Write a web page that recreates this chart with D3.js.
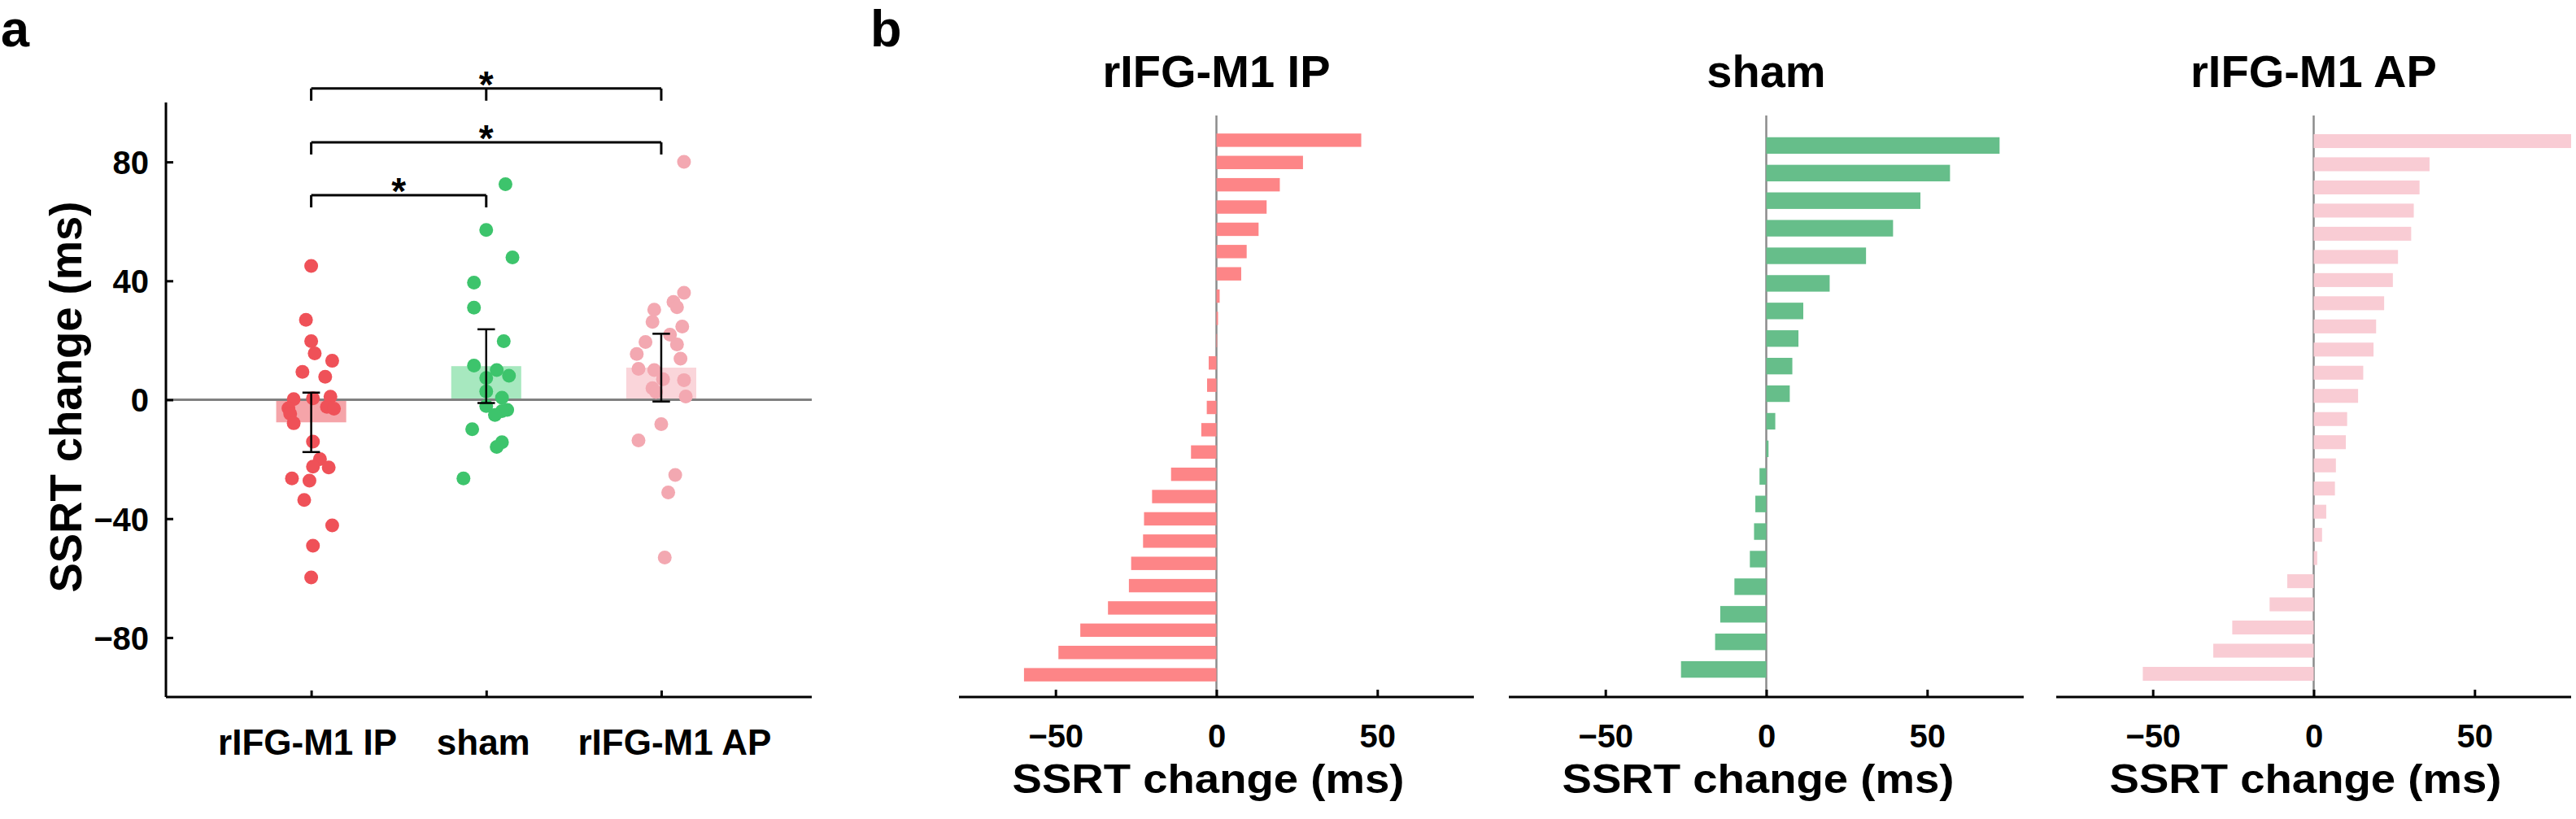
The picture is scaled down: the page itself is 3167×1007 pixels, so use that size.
<!DOCTYPE html>
<html>
<head>
<meta charset="utf-8">
<script src="https://cdn.jsdelivr.net/npm/d3@7"></script>
<style>
  html, body { margin: 0; padding: 0; background: #ffffff; }
  svg { display: block; }
  text { font-family: "Liberation Sans", Arial, Helvetica, sans-serif; font-weight: bold; fill: #000; }
</style>
</head>
<body>
<svg id="chart" width="3167" height="1007"></svg>
<script>
// ---------------- DATA ----------------
const categories = ["rIFG-M1 IP", "sham", "rIFG-M1 AP"];

// individual SSRT changes (ms), sorted descending (as in panel b)
const ipValues   = [45.0, 26.9, 19.7, 15.6, 13.1, 9.4, 7.7, 1.0, 0.5, 0.2, -2.4, -2.9, -3.0, -4.7, -7.9,
                    -14.1, -20.0, -22.5, -22.8, -26.5, -27.2, -33.7, -42.3, -49.1, -59.8];
const shamValues = [72.5, 57.1, 47.9, 39.4, 31.0, 19.7, 11.5, 10.0, 8.1, 7.3, 2.8, 0.7, -2.1, -3.4, -3.8,
                    -5.1, -9.9, -14.3, -15.9, -26.5];
const apValues   = [80.0, 36.0, 32.9, 31.1, 30.3, 26.2, 24.6, 21.9, 19.4, 18.6, 15.4, 13.8, 10.4, 10.0, 6.9,
                    6.6, 3.9, 2.6, 1.1, -8.2, -13.7, -25.3, -31.2, -53.1];

// horizontal jitter of each dot in panel a (category units), same order as the values
const ipJitter   = [0, -0.03, 0, 0.02, 0.12, -0.05, 0.08, 0.11, 0.01, -0.10, 0.09, -0.13, 0.13, -0.12, -0.10,
                    0.01, 0.05, 0.01, 0.10, -0.11, -0.01, -0.04, 0.12, 0.01, 0];
const shamJitter = [0.11, 0, 0.15, -0.07, -0.07, 0.10, -0.07, 0.06, 0.13, 0, 0, 0.09, 0, 0.12, 0.09,
                    0.05, -0.08, 0.09, 0.06, -0.13];
const apJitter   = [0.13, 0.13, 0.07, 0.09, -0.04, -0.05, 0.12, 0.05, -0.09, 0.09, -0.14, 0.11, -0.13, -0.04, 0.01,
                    0.13, -0.05, -0.03, 0.14, 0, -0.13, 0.08, 0.04, 0.02];

// group means and error-bar half widths (ms)
const groupMeans  = [-7.6, 11.3, 10.8];
const groupErrors = [10.0, 12.4, 11.4];

// significance comparisons (category index pairs) with star
const sigPairs = [[1, 3], [1, 3], [1, 2]];

// tick values
const yTicksA = [-80, -40, 0, 40, 80];
const xTicksB = [-50, 0, 50];

// ---------------- STYLE ----------------
const dotColors   = ["#ef5158", "#3dc46c", "#f3a8b1"];
const barColorsA  = ["#f5a4a9", "#a7e8bf", "#fad5da"];
const barColorsB  = ["#fd8587", "#66be8a", "#f9ccd4"];

const svg = d3.select("#chart");

// ---------------- PANEL A ----------------
const xA = d3.scaleLinear().domain([0.17, 3.86]).range([204, 998]);
const yA = d3.scaleLinear().domain([-100, 100]).range([857, 126]);
const groupsA = [
  {k: 1, values: ipValues, jitter: ipJitter},
  {k: 2, values: shamValues, jitter: shamJitter},
  {k: 3, values: apValues, jitter: apJitter}
];

const gA = svg.append("g");

// bars (means)
gA.selectAll("rect.mean").data(groupsA).join("rect")
  .attr("class", "mean")
  .attr("x", d => xA(d.k - 0.2))
  .attr("width", d => xA(d.k + 0.2) - xA(d.k - 0.2))
  .attr("y", d => yA(Math.max(0, groupMeans[d.k - 1])))
  .attr("height", d => Math.abs(yA(groupMeans[d.k - 1]) - yA(0)))
  .attr("fill", d => barColorsA[d.k - 1]);

// zero line
gA.append("line")
  .attr("x1", xA(0.17)).attr("x2", xA(3.86))
  .attr("y1", yA(0)).attr("y2", yA(0))
  .attr("stroke", "#808080").attr("stroke-width", 3);

// dots
groupsA.forEach(g => {
  gA.append("g").selectAll("circle").data(g.values).join("circle")
    .attr("cx", (v, i) => xA(g.k + g.jitter[i]))
    .attr("cy", v => yA(v))
    .attr("r", 8.5)
    .attr("fill", dotColors[g.k - 1]);
});

// error bars
const capHalf = 0.05;
groupsA.forEach(g => {
  const m = groupMeans[g.k - 1], e = groupErrors[g.k - 1];
  const eg = gA.append("g").attr("stroke", "#000").attr("stroke-width", 2.5);
  eg.append("line").attr("x1", xA(g.k)).attr("x2", xA(g.k)).attr("y1", yA(m - e)).attr("y2", yA(m + e));
  [m - e, m + e].forEach(v => {
    eg.append("line").attr("x1", xA(g.k - capHalf)).attr("x2", xA(g.k + capHalf))
      .attr("y1", yA(v)).attr("y2", yA(v));
  });
});

// axes
const yAxisA = d3.axisLeft(yA).tickValues(yTicksA).tickSize(-9).tickSizeOuter(0).tickPadding(21);
const yAxG = gA.append("g").attr("transform", `translate(${xA(0.17)},0)`).call(yAxisA);
yAxG.attr("font-family", null).attr("font-size", null);
yAxG.select(".domain").attr("stroke", "#000").attr("stroke-width", 3)
  .attr("d", `M0,${yA(100)}V${yA(-100)}`);
yAxG.selectAll(".tick line").attr("stroke", "#000").attr("stroke-width", 3);
yAxG.selectAll(".tick text").attr("font-size", 40).attr("dy", "0.36em")
  .attr("fill", "#000").style("font-weight", "bold");

const labelShiftA = [-5, -4, 16];
const xAxisA = d3.axisBottom(xA).tickValues([1, 2, 3]).tickFormat(i => categories[i - 1])
  .tickSize(-8).tickSizeOuter(0);
const xAxG = gA.append("g").attr("transform", `translate(0,${yA(-100)})`).call(xAxisA);
xAxG.attr("font-family", null).attr("font-size", null);
xAxG.select(".domain").attr("stroke", "#000").attr("stroke-width", 3)
  .attr("d", `M${xA(0.17)},0H${xA(3.86)}`);
xAxG.selectAll(".tick line").attr("stroke", "#000").attr("stroke-width", 3);
xAxG.selectAll(".tick text").attr("font-size", 44).attr("y", 71).attr("dy", 0)
  .attr("x", (d) => labelShiftA[d - 1])
  .attr("fill", "#000").style("font-weight", "bold");

// y label
gA.append("text")
  .attr("transform", `translate(100,488) rotate(-90)`)
  .attr("text-anchor", "middle")
  .attr("font-size", 56)
  .attr("textLength", 481)
  .attr("lengthAdjust", "spacingAndGlyphs")
  .text("SSRT change (ms)");

// significance brackets
const bracketLevels = [100.6, 82.5, 64.7];
const bracketRise = 4.1;
sigPairs.forEach((p, i) => {
  const yb = bracketLevels[i];
  const bg = gA.append("g").attr("stroke", "#000").attr("stroke-width", 3).attr("fill", "none");
  const legs = i === 0 ? [p[0], 2, p[1]] : [p[0], p[1]];
  bg.append("line").attr("x1", xA(p[0])).attr("x2", xA(p[1]))
    .attr("y1", yA(yb + bracketRise)).attr("y2", yA(yb + bracketRise));
  legs.forEach(k => {
    bg.append("line").attr("x1", xA(k)).attr("x2", xA(k))
      .attr("y1", yA(yb + bracketRise)).attr("y2", yA(yb));
  });
  gA.append("text")
    .attr("x", xA((p[0] + p[1]) / 2))
    .attr("y", yA(yb + bracketRise) - 10)
    .attr("text-anchor", "middle")
    .attr("font-size", 46)
    .attr("dy", "0.45em")
    .text("*");
});

// panel letters
svg.append("text").attr("x", 1).attr("y", 57).attr("font-size", 63).text("a");
svg.append("text").attr("x", 1070).attr("y", 57).attr("font-size", 63).text("b");

// ---------------- PANEL B ----------------
const panelsB = [
  {values: ipValues, range: [1179, 1812], ci: 0},
  {values: shamValues, range: [1855, 2488], ci: 1},
  {values: apValues, range: [2528, 3161], ci: 2}
];

panelsB.forEach(p => {
  const n = p.values.length;
  const x = d3.scaleLinear().domain([-80, 80]).range(p.range);
  const y = d3.scaleLinear().domain([0, n + 1]).range([145, 857]);
  const band = (y(1) - y(0)) * 0.6;
  const g = svg.append("g");

  // zero reference line
  g.append("line")
    .attr("x1", x(0)).attr("x2", x(0)).attr("y1", 142).attr("y2", 857)
    .attr("stroke", "#8c8c8c").attr("stroke-width", 2.5);

  g.selectAll("rect").data(p.values).join("rect")
    .attr("x", v => x(Math.min(0, v)))
    .attr("width", v => Math.abs(x(v) - x(0)))
    .attr("y", (v, i) => y(i + 1) - band / 2)
    .attr("height", band)
    .attr("fill", barColorsB[p.ci]);

  const ax = d3.axisBottom(x).tickValues(xTicksB).tickSize(-9).tickSizeOuter(0);
  const axG = g.append("g").attr("transform", "translate(0,857)").call(ax);
  axG.attr("font-family", null).attr("font-size", null);
  axG.select(".domain").attr("stroke", "#000").attr("stroke-width", 3)
    .attr("d", `M${p.range[0]},0H${p.range[1]}`);
  axG.selectAll(".tick line").attr("stroke", "#000").attr("stroke-width", 3);
  axG.selectAll(".tick text").attr("font-size", 40).attr("y", 62).attr("dy", 0)
    .attr("fill", "#000").style("font-weight", "bold");

  const cx = (p.range[0] + p.range[1]) / 2;
  g.append("text").attr("x", cx - 10).attr("y", 975).attr("text-anchor", "middle")
    .attr("font-size", 50)
    .attr("textLength", 482).attr("lengthAdjust", "spacingAndGlyphs")
    .text("SSRT change (ms)");
  g.append("text").attr("x", x(0)).attr("y", 107).attr("text-anchor", "middle")
    .attr("font-size", 56).text(categories[p.ci]);
});
</script>
</body>
</html>
